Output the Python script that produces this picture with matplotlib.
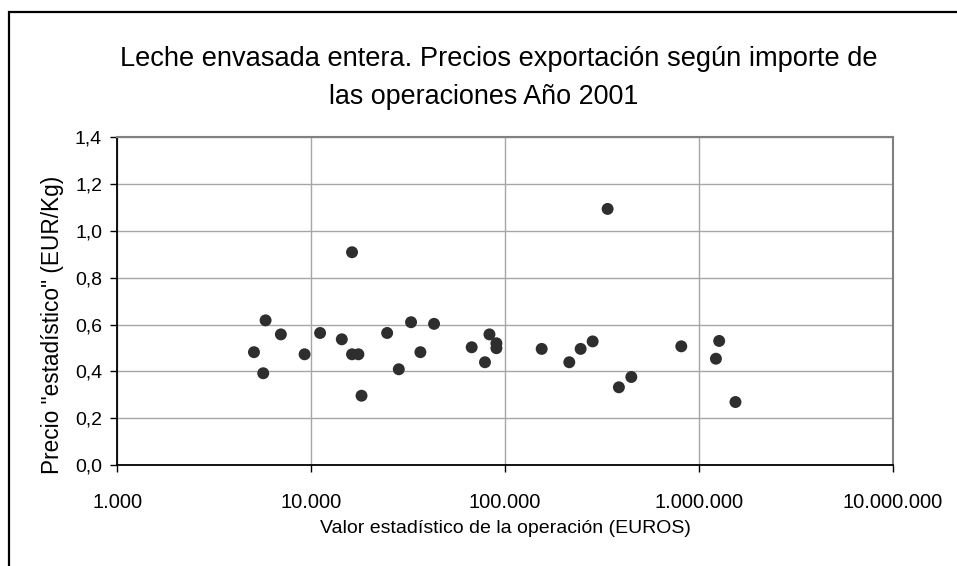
import matplotlib
matplotlib.use("Agg")
import matplotlib.pyplot as plt
from matplotlib.ticker import FuncFormatter, FixedLocator, NullLocator
from matplotlib.patches import Rectangle

plt.rcParams['font.family'] = ['Liberation Sans', 'DejaVu Sans']

valor = [5070, 5660, 5820, 6980, 9250, 11120, 14390, 16250, 16250, 17530,
         18190, 24660, 28320, 32760, 36610, 43050, 67320, 78840, 83140, 90300,
         90300, 154600, 214600, 245600, 283300, 338300, 386900, 448400, 811600,
         1273000, 1225000, 1545000]
precio = [0.482, 0.392, 0.618, 0.558, 0.473, 0.564, 0.537, 0.909, 0.473, 0.473,
          0.296, 0.564, 0.409, 0.610, 0.482, 0.603, 0.503, 0.439, 0.558, 0.520,
          0.499, 0.496, 0.439, 0.496, 0.528, 1.094, 0.332, 0.376, 0.507,
          0.530, 0.454, 0.269]

x_ticks = [1e3, 1e4, 1e5, 1e6, 1e7]
y_ticks = [0.0, 0.2, 0.4, 0.6, 0.8, 1.0, 1.2, 1.4]

title_1 = "Leche envasada entera. Precios exportación según importe de"
title_2 = "las operaciones Año 2001"
xlabel = "Valor estadístico de la operación (EUROS)"
ylabel = 'Precio "estadístico" (EUR/Kg)'

W, H = 957, 566
ax_l, ax_r, ax_t, ax_b = 117.3, 892.7, 137.3, 465.0
fig = plt.figure(figsize=(W / 100, H / 100), dpi=100)
ax = fig.add_axes([ax_l / W, 1 - ax_b / H, (ax_r - ax_l) / W, (ax_b - ax_t) / H])

ax.scatter(valor, precio, s=8.6 ** 2, color='#2e2e2e', edgecolors='none', zorder=3)

ax.set_xscale('log')
ax.set_xlim(1e3, 1e7)
ax.set_ylim(0, 1.4)
ax.xaxis.set_major_locator(FixedLocator(x_ticks))
ax.xaxis.set_minor_locator(NullLocator())
ax.yaxis.set_major_locator(FixedLocator(y_ticks))
ax.xaxis.set_major_formatter(FuncFormatter(lambda v, p: f"{int(round(v)):,}".replace(",", ".")))
ax.yaxis.set_major_formatter(FuncFormatter(lambda v, p: f"{v:.1f}".replace(".", ",")))

ax.grid(True, color='#a6a6a6', linewidth=1.0, zorder=0)
ax.set_axisbelow(True)

for s in ['left', 'bottom']:
    ax.spines[s].set_color('black')
    ax.spines[s].set_linewidth(1.3)
for s in ['top', 'right']:
    ax.spines[s].set_color('#808080')
    ax.spines[s].set_linewidth(1.5)

ax.tick_params(axis='x', direction='out', length=5, width=1.0, pad=15, labelsize=14.5, color='black')
ax.tick_params(axis='y', direction='out', length=5, width=1.0, pad=6, labelsize=14, color='black')

ax.set_xlabel(xlabel, fontsize=14, va='baseline')
ax.xaxis.set_label_coords((505 - ax_l) / (ax_r - ax_l), (ax_b - 533) / (ax_b - ax_t))
ax.set_ylabel(ylabel, fontsize=16.3, va='baseline')
ax.yaxis.set_label_coords((59 - ax_l) / (ax_r - ax_l), (ax_b - 325) / (ax_b - ax_t))

fig.text(499 / W, 1 - 66.5 / H, title_1, ha='center', va='baseline', fontsize=19.6)
fig.text(484 / W, 1 - 103.5 / H, title_2, ha='center', va='baseline', fontsize=19.4)

fig.patches.append(Rectangle((9 / W, -0.2), 1.5, 1.2 - 12 / H, transform=fig.transFigure,
                             fill=False, edgecolor='black', linewidth=1.6))

fig.savefig("out.png", dpi=100)
